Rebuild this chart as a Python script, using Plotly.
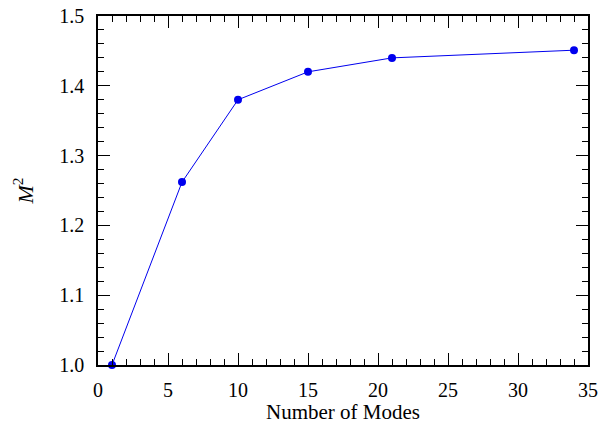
import plotly.graph_objects as go

modes = [1, 6, 10, 15, 21, 34]
m2 = [1.0, 1.262, 1.38, 1.42, 1.44, 1.451]

x_ticks = [0, 5, 10, 15, 20, 25, 30, 35]
x_labels = ["0", "5", "10", "15", "20", "25", "30", "35"]
y_ticks = [1.0, 1.1, 1.2, 1.3, 1.4, 1.5]
y_labels = ["1.0", "1.1", "1.2", "1.3", "1.4", "1.5"]

font = "Liberation Serif, Times New Roman, serif"

fig = go.Figure()
fig.add_trace(go.Scatter(
    x=modes, y=m2, mode="lines+markers",
    line=dict(color="#0000ee", width=1),
    marker=dict(color="#0000ee", size=8),
    cliponaxis=False,
))

axis_common = dict(
    showline=True, linecolor="black", linewidth=1.5, mirror="allticks",
    ticks="inside", ticklen=12, tickwidth=1, tickcolor="black",
    showgrid=False, zeroline=False, automargin=False,
    ticklabeloverflow="allow",
    tickfont=dict(family=font, size=20, color="black"),
)

fig.update_xaxes(
    range=[0, 35], tickvals=x_ticks, ticktext=x_labels, ticklabelstandoff=6,
    title=dict(text="Number of Modes", font=dict(family=font, size=21, color="black"), standoff=4),
    minor=dict(dtick=1, ticks="inside", ticklen=6, tickcolor="black", showgrid=False),
    **axis_common,
)
fig.update_yaxes(
    range=[1.0, 1.5], tickvals=y_ticks, ticktext=y_labels, ticklabelstandoff=8,
    title=dict(text="<i>M</i><sup>2</sup>", font=dict(family=font, size=22, color="black"), standoff=20),
    minor=dict(dtick=0.02, ticks="inside", ticklen=6, tickcolor="black", showgrid=False),
    **axis_common,
)

fig.update_layout(
    width=599, height=424,
    margin=dict(l=98, r=11, t=16, b=59),
    paper_bgcolor="white", plot_bgcolor="white",
    showlegend=False,
)

fig.write_html(
    "out.html",
    config={"displayModeBar": False},
    post_script="document.body.style.margin='0';document.body.style.overflow='hidden';",
)
